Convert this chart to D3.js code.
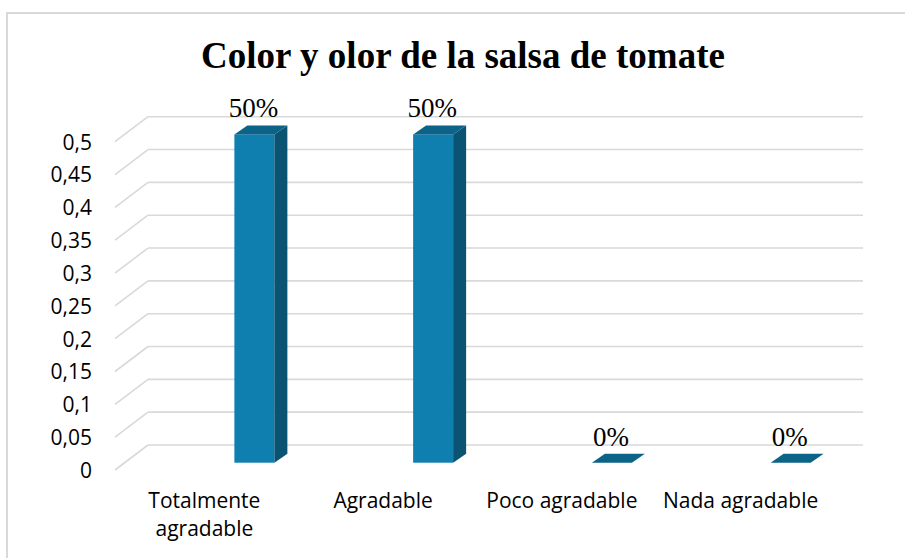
<!DOCTYPE html>
<html>
<head>
<meta charset="utf-8">
<script src="https://cdn.jsdelivr.net/npm/d3@7"></script>
<style>
  html, body { margin: 0; padding: 0; background: #ffffff; }
  svg { display: block; }
</style>
</head>
<body>
<svg id="chart" width="905" height="558"></svg>
<script>
// ---- data ----
const categories = ["Totalmente agradable", "Agradable", "Poco agradable", "Nada agradable"];
const values = [0.5, 0.5, 0, 0];
const valueLabels = ["50%", "50%", "0%", "0%"];
const yTickValues = [0, 0.05, 0.1, 0.15, 0.2, 0.25, 0.3, 0.35, 0.4, 0.45, 0.5];
const yTickLabels = ["0", "0,05", "0,1", "0,15", "0,2", "0,25", "0,3", "0,35", "0,4", "0,45", "0,5"];
const title = "Color y olor de la salsa de tomate";

// ---- layout ----
const W = 905, H = 558;
const svg = d3.select("#chart");
const sansFont = "'Open Sans', 'Noto Sans', sans-serif";
const serifFont = "'Liberation Serif', 'DejaVu Serif', serif";

// frame
svg.append("rect")
  .attr("x", 7).attr("y", 13)
  .attr("width", W + 10).attr("height", H + 10)
  .attr("fill", "none").attr("stroke", "#d9d9d9").attr("stroke-width", 2);

// title
svg.append("text")
  .attr("x", 463).attr("y", 68)
  .attr("text-anchor", "middle")
  .attr("font-family", serifFont)
  .attr("font-weight", "bold")
  .attr("font-size", 37)
  .attr("fill", "#000")
  .text(title);

// scales: back wall value scale, front floor band scale
const yBack = d3.scaleLinear().domain([0, 0.5]).range([445, 116.7]);
const floorDX = 33, floorDY = 25;     // back wall -> front edge offset
const x = d3.scaleBand().domain(categories).range([115, 830]).padding(0);
const backLeft = 148, backRight = 863;

// gridlines (back wall + left wall diagonal)
const grid = svg.append("g");
yTickValues.forEach(v => {
  const yb = yBack(v);
  grid.append("line")
    .attr("x1", backLeft).attr("x2", backRight)
    .attr("y1", yb).attr("y2", yb)
    .attr("stroke", "#d9d9d9").attr("stroke-width", 1.6);
  grid.append("line")
    .attr("x1", backLeft - floorDX).attr("y1", yb + floorDY)
    .attr("x2", backLeft).attr("y2", yb)
    .attr("stroke", "#d9d9d9").attr("stroke-width", 1.6);
});

// y tick labels
svg.append("g").selectAll("text")
  .data(yTickValues)
  .join("text")
  .attr("x", 92)
  .attr("y", d => yBack(d) + floorDY + 0.5)
  .attr("dy", "0.35em")
  .attr("text-anchor", "end")
  .attr("font-family", sansFont)
  .attr("font-size", 21)
  .attr("fill", "#000")
  .text((d, i) => yTickLabels[i]);

// bars
const barW = 40, depthDX = 13, depthDY = 9, barYOff = 17.7, barXOff = 30;
const colFront = "#0f7fb0", colSide = "#0a5372", colTop = "#0b6387";
const bars = svg.append("g");
categories.forEach((c, i) => {
  const x0 = x(c) + x.bandwidth() / 2 + barXOff;
  const x1 = x0 + barW;
  const yTop = yBack(values[i]) + barYOff;
  const yBot = yBack(0) + barYOff;
  const g = bars.append("g");
  if (yBot - yTop > 0.5) {
    g.append("rect")
      .attr("x", x0).attr("y", yTop)
      .attr("width", barW).attr("height", yBot - yTop)
      .attr("fill", colFront);
    g.append("polygon")
      .attr("points", [[x1, yTop], [x1 + depthDX, yTop - depthDY], [x1 + depthDX, yBot - depthDY], [x1, yBot]].map(p => p.join(",")).join(" "))
      .attr("fill", colSide);
  }
  g.append("polygon")
    .attr("points", [[x0, yTop], [x0 + depthDX, yTop - depthDY], [x1 + depthDX, yTop - depthDY], [x1, yTop]].map(p => p.join(",")).join(" "))
    .attr("fill", colTop);
  // value label
  svg.append("text")
    .attr("x", x0 + barW / 2 - 1)
    .attr("y", yTop - 17)
    .attr("text-anchor", "middle")
    .attr("font-family", serifFont)
    .attr("font-size", 27)
    .attr("fill", "#000")
    .text(valueLabels[i]);
});

// x category labels (wrapped)
const xl = svg.append("g");
categories.forEach(c => {
  const cx = x(c) + x.bandwidth() / 2;
  const t = xl.append("text")
    .attr("x", cx).attr("y", 508)
    .attr("text-anchor", "middle")
    .attr("font-family", sansFont)
    .attr("font-size", 21)
    .attr("fill", "#000");
  t.text(c);
  if (t.node().getComputedTextLength() > x.bandwidth()) {
    t.text(null);
    const words = c.split(" ");
    words.forEach((w, k) => {
      t.append("tspan").attr("x", cx).attr("dy", k === 0 ? 0 : 28).text(w);
    });
  }
});
</script>
</body>
</html>
